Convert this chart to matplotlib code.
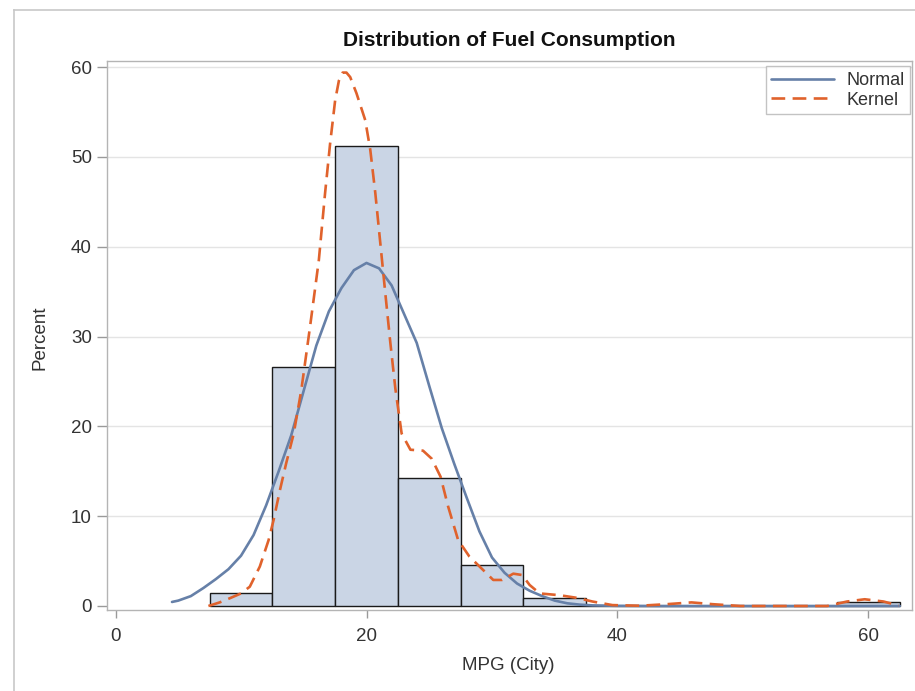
import matplotlib
matplotlib.use("Agg")
import matplotlib.pyplot as plt
from matplotlib.lines import Line2D

plt.rcParams['font.family'] = ['Liberation Sans', 'DejaVu Sans']

# Histogram of city MPG (percent of cars per 5-MPG bin)
bin_centers = [10, 15, 20, 25, 30, 35, 40, 45, 50, 55, 60]
bin_percent = [1.4, 26.6, 51.2, 14.2, 4.6, 0.9, 0.0, 0.0, 0.0, 0.0, 0.5]
bin_width = 5

# Fitted normal density curve (percent scale)
normal_x = [4.5, 5, 6, 7, 8, 9, 10, 11, 12, 13, 14, 15, 16, 17, 18, 19, 20,
            21, 22, 23, 24, 25, 26, 27, 28, 29, 30, 31, 32, 33, 34, 35, 36,
            37, 38, 40, 43, 62.5]
normal_y = [0.45, 0.6, 1.1, 2.0, 3.0, 4.1, 5.6, 7.9, 11.2, 15.0, 19.0, 24.0,
            29.0, 32.8, 35.4, 37.4, 38.2, 37.6, 35.7, 32.5, 29.3, 24.5, 19.8,
            15.8, 12.0, 8.3, 5.4, 3.7, 2.5, 1.7, 1.1, 0.6, 0.3, 0.15, 0.07,
            0.02, 0.0, 0.0]

# Kernel density estimate (percent scale)
kernel_x = [7.4, 8.3, 9.1, 10.0, 10.7, 11.5, 12.2, 12.6, 13.1, 13.6, 14.2, 14.8,
            15.5, 16.2, 16.7, 17.1, 17.5, 17.8, 18.1, 18.4, 18.7, 19.2, 19.9,
            20.3, 20.7, 21.1, 21.5, 21.9, 22.3, 22.8, 23.5, 24.5, 25.2, 25.9,
            26.5, 27.3, 28.2, 29.3, 30.1, 30.8, 31.7, 32.4, 33.0, 33.8, 35.4,
            36.8, 38.0, 39.6, 41.8, 43.9, 45.9, 47.6, 49.8, 56.7, 58.3, 59.7,
            61.2, 62.4]
kernel_y = [0.0, 0.4, 0.86, 1.4, 2.15, 4.4, 7.35, 9.6, 12.9, 15.9, 19.2, 24.0,
            31.1, 38.5, 46.0, 51.5, 56.3, 58.5, 59.4, 59.4, 58.9, 57.1, 54.1,
            50.8, 46.0, 40.4, 34.8, 29.3, 24.2, 19.2, 17.4, 17.3, 16.4, 14.4,
            11.1, 7.35, 5.5, 4.0, 2.9, 2.9, 3.6, 3.45, 2.34, 1.4, 1.2,
            0.9, 0.5, 0.1, 0.03, 0.2, 0.4, 0.2, 0.0, 0.0, 0.5, 0.75,
            0.5, 0.05]

x_ticks = [0, 20, 40, 60]
y_ticks = [0, 10, 20, 30, 40, 50, 60]

W, H = 915, 691
fig = plt.figure(figsize=(W / 100, H / 100), dpi=100)

# Outer panel border
fig.add_artist(Line2D([13.5 / W, 1.0], [1 - 9.5 / H, 1 - 9.5 / H],
                      transform=fig.transFigure, color='#C8C8C8', lw=1.2))
fig.add_artist(Line2D([13.5 / W, 13.5 / W], [0.0, 1 - 9.5 / H],
                      transform=fig.transFigure, color='#C8C8C8', lw=1.2))

ax = fig.add_axes([107 / W, 1 - 609.5 / H, (912 - 107) / W, (609.5 - 61) / H])

grid_c = '#E4E4E4'
for yv in y_ticks[1:]:
    ax.axhline(yv, color=grid_c, lw=1.0, zorder=0)

ax.bar(bin_centers, bin_percent, width=bin_width, color='#CAD5E5',
       edgecolor='#1A1A1A', linewidth=1.0, zorder=2)

ax.plot(normal_x, normal_y, color='#6680A8', lw=1.9, zorder=3,
        solid_capstyle='round', solid_joinstyle='round', label='Normal')
ax.plot(kernel_x, kernel_y, color='#E0622C', lw=1.9, zorder=4,
        linestyle=(0, (5.2, 2.8)), label='Kernel')

ax.set_xlim(-0.68, 63.47)
ax.set_ylim(-0.39, 60.69)
ax.set_xticks(x_ticks)
ax.set_yticks(y_ticks)

for s in ax.spines.values():
    s.set_color('#B4B4B4')
    s.set_linewidth(1.0)

ax.tick_params(axis='both', colors='#9A9A9A', labelcolor='#333333',
               labelsize=13.5, width=1.0)
ax.tick_params(axis='x', length=6, pad=7)
ax.tick_params(axis='y', length=7, pad=4)

ax.set_xlabel('MPG (City)', fontsize=13.5, color='#333333', va='center')
ax.set_ylabel('Percent', fontsize=13.5, color='#333333', va='center')
ax.xaxis.set_label_coords((508 - 107) / 805, (609.5 - 665) / 548.5)
ax.yaxis.set_label_coords((40 - 107) / 805, (609.5 - 338) / 548.5)

fig.text(509 / W, 1 - 40 / H, 'Distribution of Fuel Consumption',
         fontsize=15, fontweight='bold', color='#111111',
         ha='center', va='center')

leg = ax.legend(loc='upper right', fontsize=13, frameon=True, fancybox=False,
                edgecolor='#B4B4B4', borderpad=0.3, handlelength=3.5,
                handletextpad=0.66, labelspacing=0.15, borderaxespad=0.0,
                bbox_to_anchor=(0.9975, 0.99))
leg.get_frame().set_linewidth(1.0)
for t in leg.get_texts():
    t.set_color('#333333')

fig.savefig('out.png', dpi=100)
